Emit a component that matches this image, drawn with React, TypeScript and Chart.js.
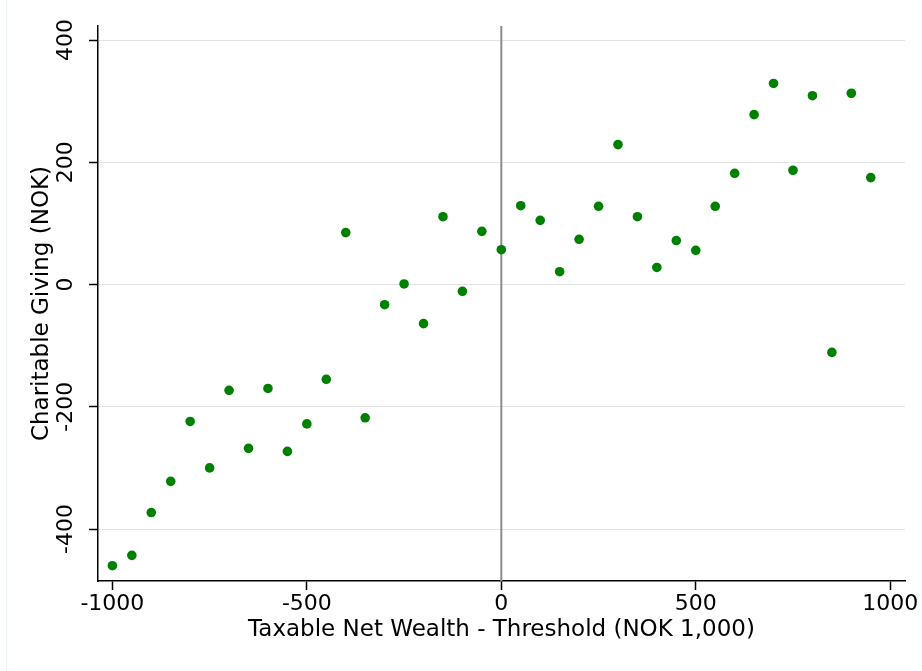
import React, { useEffect, useRef } from "react";
import { Chart, registerables } from "chart.js";

Chart.register(...registerables);

const xValues = [
  -1000, -950, -900, -850, -800, -750, -700, -650, -600, -550,
  -500, -450, -400, -350, -300, -250, -200, -150, -100, -50,
  0, 50, 100, 150, 200, 250, 300, 350, 400, 450,
  500, 550, 600, 650, 700, 750, 800, 850, 900, 950,
];
const givingValues = [
  -460, -443, -373, -322, -224, -300, -173, -268, -170, -273,
  -228, -155, 85, -218, -33, 1, -64, 111, -11, 87,
  57, 129, 105, 21, 74, 128, 229, 111, 28, 72,
  56, 128, 182, 278, 329, 187, 309, -111, 313, 175,
];
const xTicks = [-1000, -500, 0, 500, 1000];
const yTicks = [-400, -200, 0, 200, 400];
const xRange = [-1037, 1038];
const yRange = [-485, 423];
const thresholdLine = [0, 0];

const FONT = "'DejaVu Sans', sans-serif";

export default function App() {
  const ref = useRef<HTMLCanvasElement | null>(null);

  useEffect(() => {
    if (!ref.current) return;
    const chart = new Chart(ref.current, {
      type: "scatter",
      data: {
        datasets: [
          {
            type: "line",
            data: [
              { x: thresholdLine[0], y: yRange[0] },
              { x: thresholdLine[1], y: yRange[1] },
            ],
            borderColor: "#8c8c8c",
            borderWidth: 2,
            pointRadius: 0,
            order: 2,
          } as any,
          {
            data: xValues.map((x, i) => ({ x, y: givingValues[i] })),
            backgroundColor: "#008000",
            borderColor: "#008000",
            borderWidth: 0,
            pointRadius: 4.8,
            order: 1,
          },
        ],
      },
      options: {
        animation: false,
        responsive: false,
        maintainAspectRatio: false,
        layout: { padding: { left: 0, top: 26, right: 17, bottom: 0 } },
        plugins: { legend: { display: false }, tooltip: { enabled: false } },
        scales: {
          x: {
            type: "linear",
            min: xRange[0],
            max: xRange[1],
            afterBuildTicks: (s: any) => {
              s.ticks = xTicks.map((v) => ({ value: v }));
            },
            afterFit: (s: any) => {
              s.height = 90;
            },
            grid: {
              display: true,
              drawOnChartArea: false,
              drawTicks: true,
              tickLength: 9,
              tickWidth: 1.5,
              tickColor: "#000",
            },
            border: { display: true, color: "#000", width: 1.5 },
            ticks: {
              color: "#000",
              font: { family: FONT, size: 22 },
              padding: 1,
              maxRotation: 0,
              minRotation: 0,
              callback: (v: any) => String(v),
            },
            title: {
              display: true,
              text: "Taxable Net Wealth - Threshold (NOK 1,000)",
              color: "#000",
              font: { family: FONT, size: 23 },
              padding: { top: 0, bottom: 27 },
            },
          },
          y: {
            type: "linear",
            min: yRange[0],
            max: yRange[1],
            afterBuildTicks: (s: any) => {
              s.ticks = yTicks.map((v) => ({ value: v }));
            },
            afterFit: (s: any) => {
              s.width = 98;
            },
            grid: {
              display: true,
              color: "#e2e2e2",
              lineWidth: 1,
              drawTicks: true,
              tickLength: 9,
              tickWidth: 1.5,
              tickColor: "#000",
            },
            border: { display: true, color: "#000", width: 1.5 },
            ticks: {
              color: "#000",
              font: { family: FONT, size: 22 },
              padding: -2,
              minRotation: 90,
              maxRotation: 90,
              crossAlign: "center",
              callback: (v: any) => String(v),
            },
            title: {
              display: true,
              text: "Charitable Giving (NOK)",
              color: "#000",
              font: { family: FONT, size: 23 },
              padding: { top: 28, bottom: 0 },
            },
          },
        },
      },
    });
    return () => chart.destroy();
  }, []);

  return (
    <div style={{ position: "fixed", left: 0, top: 0, width: 922, height: 671, background: "#fff" }}>
      <div style={{ position: "absolute", left: 6, top: 0, width: 1, height: 671, background: "#e9f1f1" }} />
      <canvas ref={ref} width={922} height={671} style={{ position: "absolute", left: 0, top: 0, width: 922, height: 671 }} />
    </div>
  );
}
